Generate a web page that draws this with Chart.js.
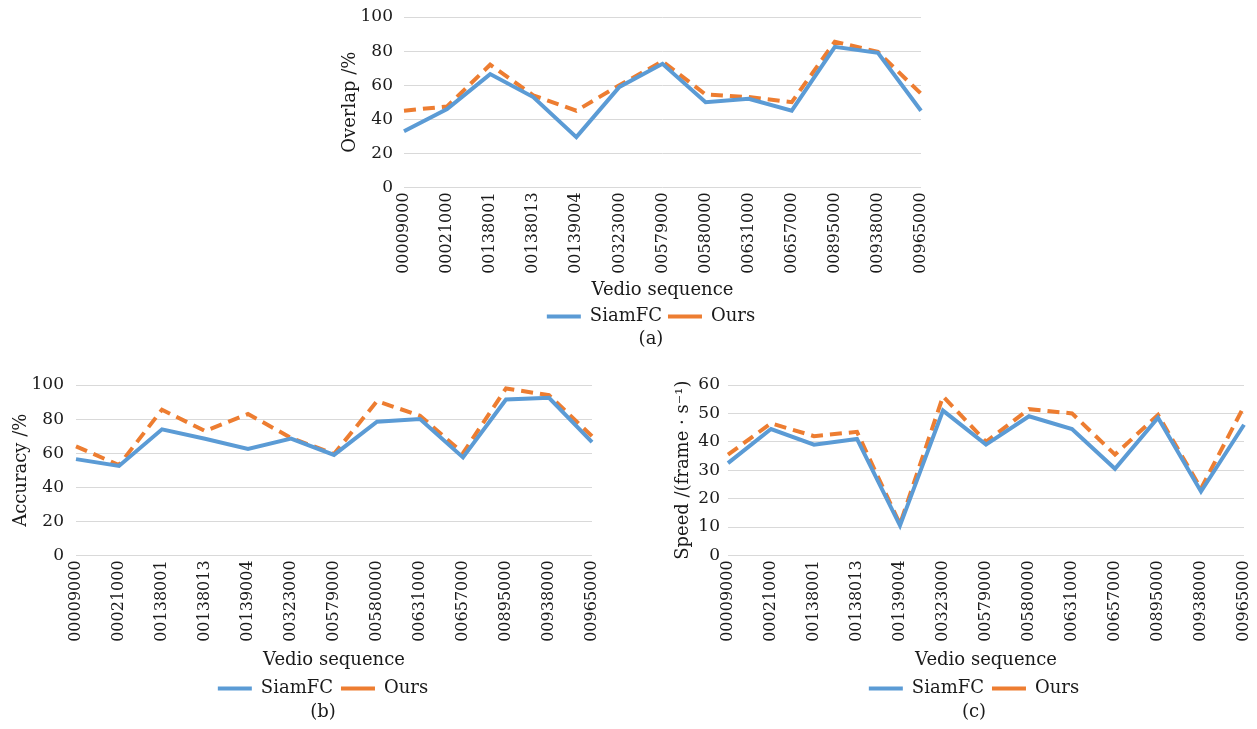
<!DOCTYPE html>
<html>
<head>
<meta charset="utf-8">
<script src="https://cdn.jsdelivr.net/npm/chart.js@4.4.1/dist/chart.umd.min.js"></script>
<style>
  html, body { margin: 0; padding: 0; background: #fff; overflow: hidden; width: 1257px; height: 729px; }
  .box { position: absolute; }
</style>
</head>
<body>
<div class="box" style="left:300px; top:0px;"><canvas id="chartA" width="650" height="350"></canvas></div>
<div class="box" style="left:0px; top:360px;"><canvas id="chartB" width="620" height="363"></canvas></div>
<div class="box" style="left:660px; top:360px;"><canvas id="chartC" width="612" height="363"></canvas></div>
<script>
var sequences = ['00009000', '00021000', '00138001', '00138013', '00139004', '00323000', '00579000',
                 '00580000', '00631000', '00657000', '00895000', '00938000', '00965000'];

// (a) overlap
var overlapSiamFC = [33, 46, 66.5, 53, 29.5, 59, 72.5, 50, 52, 45, 82.5, 79, 45];
var overlapOurs   = [45, 47.5, 72, 54, 45, 60, 74, 54.5, 53, 50, 85.5, 79.5, 55];

// (b) accuracy
var accuracySiamFC = [56.5, 52.5, 74, 68.5, 62.5, 68.5, 59, 78.5, 80, 57.5, 91.5, 92.5, 66.5];
var accuracyOurs   = [64, 53, 85.5, 73, 83, 69, 59.5, 90.5, 82, 60, 98, 94, 70];

// (c) speed
var speedSiamFC = [32.5, 44.5, 39, 41, 10.5, 51, 39, 49, 44.5, 30.5, 48.5, 22.5, 46];
var speedOurs   = [35.5, 46.5, 42, 43.5, 11, 56, 40, 51.5, 50, 35.5, 49.5, 23.5, 52.5];

var BLUE = '#5B9BD5';
var ORANGE = '#ED7D31';
var TEXT = '#1a1a1a';
var FONT = 'DejaVu Serif';

// width of the widest y label, so mirrored labels can sit left of the plot
function labelWidth(txt) {
    var m = document.createElement('canvas').getContext('2d');
    m.font = '17px "' + FONT + '"';
    return m.measureText(txt).width;
}

function makeChart(id, o) {
    var ctx = document.getElementById(id).getContext('2d');
    return new Chart(ctx, {
        type: 'line',
        data: {
            labels: sequences,
            datasets: [{
                label: 'SiamFC',
                data: o.siam,
                borderColor: BLUE,
                backgroundColor: BLUE,
                borderWidth: 4,
                pointRadius: 0,
                tension: 0
            }, {
                label: 'Ours',
                data: o.ours,
                borderColor: ORANGE,
                backgroundColor: ORANGE,
                borderWidth: 4,
                borderDash: [12, 7],
                pointRadius: 0,
                tension: 0
            }]
        },
        options: {
            responsive: false,
            animation: false,
            layout: { padding: { top: o.padTop, right: o.padRight, bottom: 0, left: o.padLeft } },
            scales: {
                x: {
                    offset: false,
                    grid: { display: false, drawTicks: false },
                    border: { display: false },
                    ticks: { autoSkip: false, minRotation: 90, maxRotation: 90, padding: 5,
                             color: TEXT, font: { family: FONT, size: 16 } },
                    title: { display: true, text: 'Vedio sequence', color: TEXT,
                             font: { family: FONT, size: 18 }, padding: { top: 0, bottom: 0 } },
                    afterFit: function (s) { s.height = o.xHeight; }
                },
                y: {
                    min: 0,
                    max: o.max,
                    ticks: { stepSize: o.step, mirror: true, crossAlign: 'far',
                             padding: -o.tickGap - labelWidth(String(o.max)),
                             color: TEXT, font: { family: FONT, size: 17 } },
                    grid: { color: '#D9D9D9', lineWidth: 1, drawTicks: false },
                    border: { display: false },
                    title: { display: true, text: o.yTitle, color: TEXT,
                             font: { family: FONT, size: 18 }, padding: { top: o.yTitlePad, bottom: 0 } },
                    afterFit: function (s) { s.width = o.yWidth; }
                }
            },
            plugins: {
                legend: {
                    position: 'bottom',
                    labels: { usePointStyle: true, pointStyle: 'line', pointStyleWidth: 34,
                              color: TEXT, font: { family: FONT, size: 18 }, padding: o.legPad }
                },
                title: {
                    display: true,
                    position: 'bottom',
                    text: o.caption,
                    color: TEXT,
                    font: { family: FONT, size: 18, weight: 'normal' },
                    padding: { top: o.capPad, bottom: 0 }
                },
                tooltip: { enabled: false }
            }
        }
    });
}

makeChart('chartA', { siam: overlapSiamFC, ours: overlapOurs, max: 100, step: 20,
    yTitle: 'Overlap /%', caption: '(a)', padTop: 17, padRight: 29, padLeft: 81,
    yWidth: 23, yTitlePad: -41.8, tickGap: 11, xHeight: 114, legPad: 6, capPad: -7 });
makeChart('chartB', { siam: accuracySiamFC, ours: accuracyOurs, max: 100, step: 20,
    yTitle: 'Accuracy /%', caption: '(b)', padTop: 25, padRight: 28, padLeft: 54,
    yWidth: 22, yTitlePad: -43.8, tickGap: 12, xHeight: 116, legPad: 8, capPad: -6 });
makeChart('chartC', { siam: speedSiamFC, ours: speedOurs, max: 60, step: 10,
    yTitle: 'Speed /(frame \u00b7 s\u207b\u00b9)', caption: '(c)', padTop: 25, padRight: 28, padLeft: 44,
    yWidth: 24, yTitlePad: -31.8, tickGap: 8, xHeight: 116, legPad: 8, capPad: -6 });
</script>
</body>
</html>
